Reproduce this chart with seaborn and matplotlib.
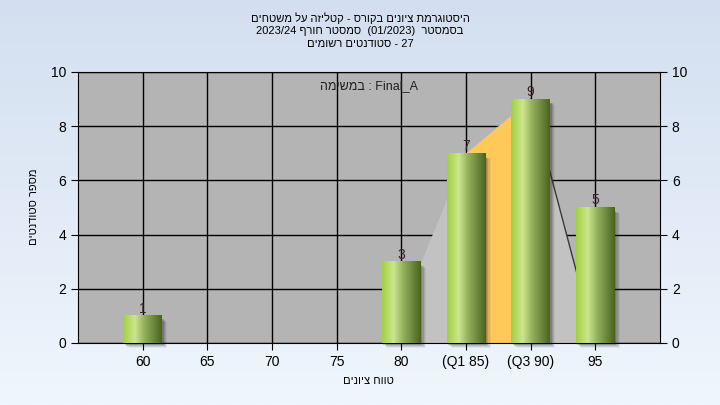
import numpy as np
import pandas as pd
import matplotlib
matplotlib.use('Agg')
import matplotlib.pyplot as plt
import seaborn as sns
from matplotlib.colors import LinearSegmentedColormap
from matplotlib.patches import Rectangle, Polygon

# נתונים
grades = [60, 65, 70, 75, 80, 85, 90, 95]
counts = [1, 0, 0, 0, 3, 7, 9, 5]
tick_labels = ['60', '65', '70', '75', '80', '(Q1 85)', '(Q3 90)', '95']
q1, q3 = 85, 90
curve_x = [79, 85, 90, 95]
curve_y = [0, 7, 9, 0]

title_1 = "היסטוגרמת ציונים בקורס - קטליזה על משטחים"
title_2_a = "בסמסטר"
title_2_b = "(01/2023)"
title_2_c = "סמסטר חורף"
title_2_d = "2023/24"
title_3_a = "סטודנטים רשומים"
title_3_b = "27"
task_word = "במשימה"
task_name = "Final_A"
x_title = "טווח ציונים"
y_title = "מספר סטודנטים"


def vis(s):
    # matplotlib draws left to right, so Hebrew has to be flipped
    return s[::-1]


plt.rcParams['font.family'] = ['Liberation Sans', 'DejaVu Sans']

df = pd.DataFrame({'grade': grades, 'count': counts})

fig = plt.figure(figsize=(7.2, 4.05), dpi=100)

# רקע מדורג
bg = fig.add_axes([0, 0, 1, 1], zorder=-10)
grad = np.linspace(0, 1, 256).reshape(-1, 1)
bg_cmap = LinearSegmentedColormap.from_list('bg', ['#d3dff0', '#eff6fd'])
bg.imshow(grad, aspect='auto', cmap=bg_cmap, extent=[0, 1, 0, 1], origin='upper')
bg.axis('off')

ax = fig.add_axes([78 / 720, 1 - 343 / 405, 582 / 720, 271 / 405])
ax.set_facecolor('#b4b4b4')

# אזור ההתפלגות
ax.add_patch(Polygon(list(zip(curve_x, curve_y)), closed=True, facecolor='#c2c2c2',
                     edgecolor='none', zorder=1))
ax.fill_between([q1, q3], [0, 0], [curve_y[1], curve_y[2]], color='#ffc95a', zorder=1.2, lw=0)
ax.plot(curve_x[2:], curve_y[2:], color='#3a3a3a', lw=1, zorder=1.3)

sns.barplot(data=df, x='grade', y='count', native_scale=True, width=0.6,
            color='#9ccc3c', ax=ax, zorder=3, errorbar=None)

bar_cmap = LinearSegmentedColormap.from_list(
    'bar', [(0, '#a2d03e'), (0.3, '#cbe68e'), (0.55, '#93b05c'), (1, '#4a6420')])
bar_grad = np.linspace(0, 1, 128).reshape(1, -1)

for p in list(ax.patches):
    if not isinstance(p, Rectangle) or p.get_height() <= 0:
        continue
    x0, w, h = p.get_x(), p.get_width(), p.get_height()
    # צל
    for i, a in enumerate([0.2, 0.14, 0.1, 0.06]):
        d = 0.12 + 0.1 * i
        ax.add_patch(Rectangle((x0 + d, -0.08 - 0.03 * i), w, h - 0.05, facecolor='#202020',
                               alpha=a, edgecolor='none', zorder=2.5, clip_on=False))
    p.set_facecolor('none')
    p.set_edgecolor('none')
    ax.imshow(bar_grad, extent=[x0, x0 + w, 0, h], aspect='auto', cmap=bar_cmap, zorder=3)

for g, c in zip(grades, counts):
    if c > 0:
        ax.text(g, c + 0.0, str(c), ha='center', va='bottom', fontsize=10, color='#3a2626', zorder=4)

ax.set_xlim(55, 100)
ax.set_ylim(0, 10)
ax.set_xticks(grades)
ax.set_xticklabels(tick_labels)
ax.set_yticks(range(0, 11, 2))
ax.grid(True, color='black', lw=1)
ax.set_axisbelow(True)
for sp in ax.spines.values():
    sp.set_color('black')
ax.tick_params(axis='both', labelsize=10, length=5, color='black', direction='out')
ax.tick_params(axis='y', right=True, labelright=True)
ax.set_xlabel('')
ax.set_ylabel('')

ax.text(0.5, 0.948, vis(task_word) + " : " + task_name, transform=ax.transAxes,
        ha='center', va='center', fontsize=9, color='#202020', zorder=5)

fig.text(0.5, 1 - 18 / 405, vis(title_1), ha='center', va='center', fontsize=8)
fig.text(0.5, 1 - 31 / 405, title_2_d + " " + vis(title_2_c) + "  " + title_2_b + "  " + vis(title_2_a),
         ha='center', va='center', fontsize=8)
fig.text(0.5, 1 - 44 / 405, vis(title_3_a) + " - " + title_3_b, ha='center', va='center', fontsize=8)
fig.text(368 / 720, 1 - 381 / 405, vis(x_title), ha='center', va='center', fontsize=8)
fig.text(34 / 720, 1 - 207 / 405, vis(y_title), ha='center', va='center', fontsize=8, rotation=90)

fig.savefig('out.png', dpi=100)
